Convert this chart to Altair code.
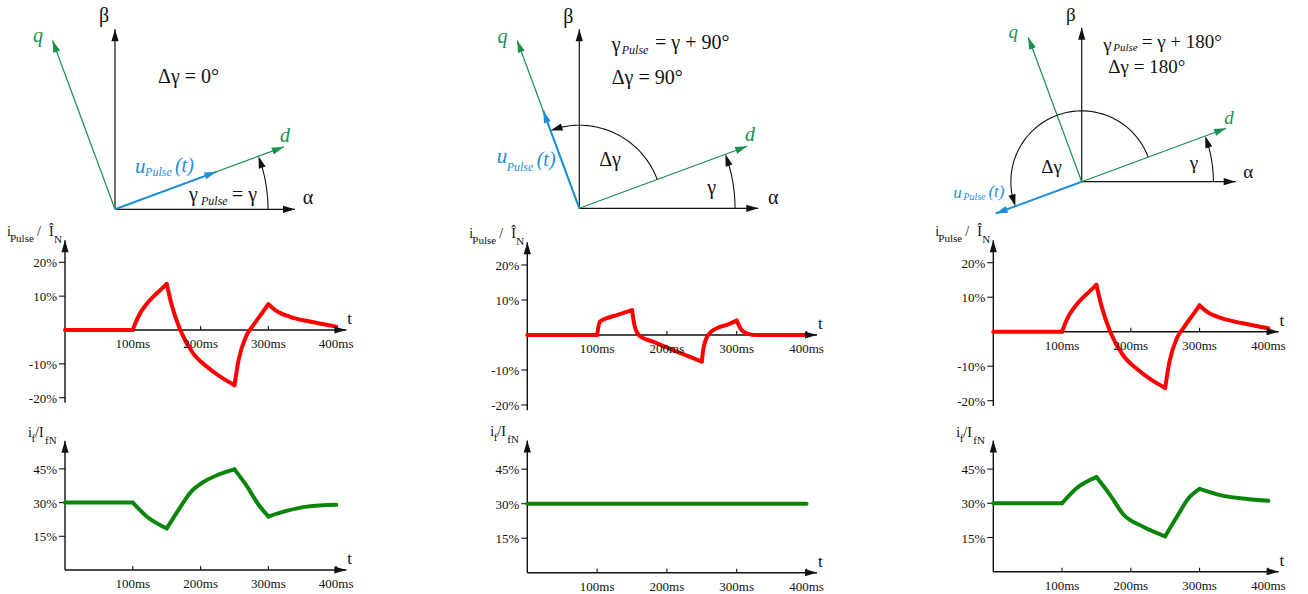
import altair as alt
import numpy as np
import pandas as pd

SERIF = "'Liberation Serif', 'Times New Roman', Times, 'DejaVu Serif', serif"
RED = "#ff0000"
FGREEN = "#0a850a"
PGREEN = "#17904c"
BLUE = "#1e8fd8"
BLACK = "#111111"

# ---------------- values ----------------
MS_TICKS = [100, 200, 300, 400]
MS_LABELS = ["100ms", "200ms", "300ms", "400ms"]
PULSE_TICKS = [20, 10, -10, -20]
PULSE_LABELS = ["20%", "10%", "-10%", "-20%"]
FIELD_TICKS = [45, 30, 15]
FIELD_LABELS = ["45%", "30%", "15%"]
SWITCH_MS = [100, 150, 250, 300]   # instants where the pulse changes

# column 1 : delta gamma = 0 deg
t_pulse_1 = [0, 100, 105, 110.6, 120, 130, 140, 150, 157, 170, 189, 209, 229, 250, 256, 268, 278, 292, 300, 310, 332, 361, 400]
i_pulse_1 = [0, 0, 2.6, 4.9, 7.6, 9.8, 11.7, 13.6, 7.7, 0.0, -6.9, -10.8, -13.8, -16.3, -8.9, -1.5, 1.5, 5.4, 7.6, 5.9, 3.9, 2.5, 1.0]
t_field_1 = [0, 100, 121, 150, 168, 185, 205, 225, 250, 269, 284, 300, 328, 357, 400]
i_field_1 = [30, 30, 23.7, 18.5, 27.0, 34.5, 39.3, 42.3, 44.8, 37.0, 29.7, 23.8, 26.4, 28.2, 29.0]

# column 2 : delta gamma = 90 deg
t_pulse_2 = [0, 100, 104, 114, 128, 150, 154, 161, 180, 209, 250, 252, 259, 271, 286, 300, 307, 314, 326, 400]
i_pulse_2 = [0, 0, 3.8, 4.8, 5.7, 7.1, 2.4, -0.3, -1.9, -4.3, -7.6, -4.3, 0.0, 1.9, 2.9, 4.1, 1.4, 0.5, 0.0, 0.0]
t_field_2 = [0, 400]
i_field_2 = [30, 30]

# column 3 : delta gamma = 180 deg
t_pulse_3 = [0, 100, 105, 110.6, 120, 130, 140, 150, 157, 170, 189, 209, 229, 250, 256, 268, 278, 292, 300, 310, 332, 361, 400]
i_pulse_3 = [0, 0, 2.6, 4.9, 7.6, 9.8, 11.7, 13.6, 7.7, 0.0, -6.9, -10.8, -13.8, -16.3, -8.9, -1.5, 1.5, 5.4, 7.6, 5.9, 3.9, 2.5, 1.0]
t_field_3 = [0, 100, 121, 150, 170, 189, 218, 250, 267, 284, 300, 330, 359, 400]
i_field_3 = [30, 30, 36.6, 41.5, 33.6, 25.2, 19.7, 15.5, 24.1, 32.2, 36.3, 33.6, 32.2, 31.1]

PULSE_T = [t_pulse_1, t_pulse_2, t_pulse_3]
PULSE_V = [i_pulse_1, i_pulse_2, i_pulse_3]
FIELD_T = [t_field_1, t_field_2, t_field_3]
FIELD_V = [i_field_1, i_field_2, i_field_3]

# phasor diagrams
GAMMA = 20.3                    # rotor angle (deg)
DELTA_GAMMA = [0, 90, 180]      # pulse offset (deg)
U_LEN = [0.60, 0.58, 0.595]     # pulse voltage vector length (rel.)
GAMMA_ARC_R = [0.85, 0.87, 0.855]
DGAMMA_ARC_R = [None, 0.464, 0.46]

# phasor texts: (text, x, y, size, italic, align, colour)
PH_TEXT = [
    [("β", -0.061, 1.074, 20, False, "center", BLACK),
     ("α", 1.072, 0.063, 20, False, "center", BLACK),
     ("q", -0.428, 0.963, 20, True, "center", PGREEN),
     ("d", 0.944, 0.407, 20, True, "center", PGREEN),
     ("Δγ = 0°", 0.239, 0.735, 20, False, "left", BLACK),
     ("γ", 0.411, 0.079, 20, False, "left", BLACK),
     ("Pulse", 0.478, 0.046, 12, True, "left", BLACK),
     ("= γ", 0.65, 0.079, 20, False, "left", BLACK),
     ("u", 0.111, 0.237, 21, True, "left", BLUE),
     ("Pulse", 0.167, 0.209, 12, True, "left", BLUE),
     ("(t)", 0.333, 0.242, 20, True, "left", BLUE)],
    [("β", -0.061, 1.07, 20, False, "center", BLACK),
     ("α", 1.084, 0.056, 20, False, "center", BLACK),
     ("q", -0.429, 0.959, 20, True, "center", PGREEN),
     ("d", 0.954, 0.41, 20, True, "center", PGREEN),
     ("γ", 0.181, 0.912, 20, False, "left", BLACK),
     ("Pulse", 0.237, 0.884, 12, True, "left", BLACK),
     ("= γ + 90°", 0.423, 0.922, 20, False, "left", BLACK),
     ("Δγ = 90°", 0.181, 0.726, 20, False, "left", BLACK),
     ("u", -0.461, 0.288, 21, True, "left", BLUE),
     ("Pulse", -0.406, 0.232, 12, True, "left", BLUE),
     ("(t)", -0.238, 0.268, 20, True, "left", BLUE),
     ("Δγ", 0.172, 0.27, 20, False, "center", BLACK),
     ("γ", 0.74, 0.112, 20, False, "center", BLACK)],
    [("β", -0.071, 1.082, 19, False, "center", BLACK),
     ("α", 1.082, 0.065, 19, False, "center", BLACK),
     ("q", -0.444, 0.974, 19, True, "center", PGREEN),
     ("d", 0.956, 0.412, 19, True, "center", PGREEN),
     ("γ", 0.14, 0.888, 19, False, "left", BLACK),
     ("Pulse", 0.205, 0.866, 11, True, "left", BLACK),
     ("= γ + 180°", 0.39, 0.909, 19, False, "left", BLACK),
     ("Δγ = 180°", 0.173, 0.747, 19, False, "left", BLACK),
     ("u", -0.834, -0.075, 17, True, "left", BLUE),
     ("Pulse", -0.769, -0.097, 10, True, "left", BLUE),
     ("(t)", -0.606, -0.065, 17, True, "left", BLUE),
     ("Δγ", -0.195, 0.097, 19, False, "center", BLACK),
     ("γ", 0.729, 0.119, 19, False, "center", BLACK)],
]

# ---------------- layout (pixels) ----------------
ROW_PIX = [(0, 235), (235, 435), (435, 594)]
COLS = [
    dict(left=0, width=462, x0=65.0, ppms=0.678, pulse_y0=330.0, pulse_ppp=3.385,
         field_y0=570.0, field_ppp=2.247, ox=115.0, oy=209.3, L=180.0),
    dict(left=462, width=466, x0=527.3, ppms=0.698, pulse_y0=335.0, pulse_ppp=3.5,
         field_y0=572.7, field_ppp=2.30, ox=579.3, oy=208.3, L=179.0),
    dict(left=928, width=380, x0=993.3, ppms=0.6875, pulse_y0=331.7, pulse_ppp=3.45,
         field_y0=571.7, field_ppp=2.28, ox=1081.7, oy=181.7, L=154.0),
]
X_AXIS_END = 415
PULSE_AXIS = (-21.5, 26.5)
FIELD_AXIS = (0, 57.5)
PULSE_TITLE = [("i", -58, -4, 14), ("Pulse", -55, 1.5, 11), ("/", -28, -4, 14),
               ("Î", -16, -4, 14), ("N", -11, 2.5, 11)]
FIELD_TITLE = [("i", -37, -4, 14), ("f", -33.5, 1, 11), ("/I", -30, -4, 14),
               ("fN", -20, 3, 11)]

ARROW_PATH = "M0,0L-0.6,2L0.6,2Z"
ARROW_SIZE = 144


def lin(lo, hi):
    return alt.Scale(domain=[lo, hi], nice=False, zero=False)


def arrows(df, xs, ys):
    return alt.Chart(df).mark_point(shape=ARROW_PATH, filled=True, size=ARROW_SIZE,
                                    opacity=1, strokeWidth=0).encode(
        x=alt.X("x:Q", scale=xs, axis=None),
        y=alt.Y("y:Q", scale=ys, axis=None),
        angle=alt.Angle("rot:Q", scale=None),
        color=alt.Color("color:N", scale=None),
    )


def segmented(t, v):
    """Split a curve at the switching instants present in it (boundary points go to both pieces)."""
    cuts = [s for s in SWITCH_MS if s in t]
    bounds = [min(t)] + cuts + [max(t)]
    rows = []
    for s in range(len(bounds) - 1):
        lo, hi = bounds[s], bounds[s + 1]
        pts = [(tt, vv) for tt, vv in zip(t, v) if lo <= tt <= hi]
        for i, (tt, vv) in enumerate(pts):
            rows.append({"seg": s, "k": i, "t": tt, "v": vv})
    return pd.DataFrame(rows)


def time_panel(k, kind):
    c = COLS[k]
    if kind == "pulse":
        top, bot = ROW_PIX[1]
        y0, ppp = c["pulse_y0"], c["pulse_ppp"]
        ticks, labels, (ylo, yhi), title = PULSE_TICKS, PULSE_LABELS, PULSE_AXIS, PULSE_TITLE
        t, v, colr = PULSE_T[k], PULSE_V[k], RED
    else:
        top, bot = ROW_PIX[2]
        y0, ppp = c["field_y0"], c["field_ppp"]
        ticks, labels, (ylo, yhi), title = FIELD_TICKS, FIELD_LABELS, FIELD_AXIS, FIELD_TITLE
        t, v, colr = FIELD_T[k], FIELD_V[k], FGREEN
    xs = lin((c["left"] - c["x0"]) / c["ppms"], (c["left"] + c["width"] - c["x0"]) / c["ppms"])
    ys = lin((y0 - bot) / ppp, (y0 - top) / ppp)

    def X(f):
        return alt.X(f, type="quantitative", scale=xs, axis=None)

    def Y(f):
        return alt.Y(f, type="quantitative", scale=ys, axis=None)

    layers = []
    ax = pd.DataFrame({"x": [0, 0], "y": [ylo, 0], "x2": [0, X_AXIS_END], "y2": [yhi, 0]})
    layers.append(alt.Chart(ax).mark_rule(color=BLACK, strokeWidth=1.4).encode(
        x=X("x"), y=Y("y"), x2="x2", y2="y2"))
    yt = pd.DataFrame({"x": [0] * len(ticks), "y": ticks, "lab": labels})
    layers.append(alt.Chart(yt).mark_rule(color=BLACK, strokeWidth=1.1, xOffset=-6).encode(
        x=X("x"), x2="x", y=Y("y")))
    xt = pd.DataFrame({"x": MS_TICKS, "y": [0] * len(MS_TICKS), "lab": MS_LABELS})
    layers.append(alt.Chart(xt).mark_rule(color=BLACK, strokeWidth=1.1, yOffset=-4).encode(
        x=X("x"), y=Y("y"), y2="y"))
    curve = segmented(t, v)
    layers.append(alt.Chart(curve).mark_line(color=colr, strokeWidth=4, strokeJoin="round",
                                             strokeCap="round", interpolate="monotone").encode(
        x=X("t"), y=Y("v"), detail="seg:N", order="k:Q"))
    ar = pd.DataFrame({"x": [0, X_AXIS_END], "y": [yhi, 0], "rot": [0, 90], "color": [BLACK, BLACK]})
    layers.append(arrows(ar, xs, ys))
    layers.append(alt.Chart(yt).mark_text(font=SERIF, fontSize=13, align="right", baseline="middle",
                                          dx=-8, dy=1, color=BLACK).encode(x=X("x"), y=Y("y"), text="lab:N"))
    layers.append(alt.Chart(xt).mark_text(font=SERIF, fontSize=13, align="center", baseline="middle",
                                          dy=14, color=BLACK).encode(x=X("x"), y=Y("y"), text="lab:N"))
    tl = pd.DataFrame({"x": [X_AXIS_END], "y": [0], "lab": ["t"]})
    layers.append(alt.Chart(tl).mark_text(font=SERIF, fontSize=17, align="left", baseline="middle",
                                          dx=1, dy=-11, color=BLACK).encode(x=X("x"), y=Y("y"), text="lab:N"))
    for txt, dx, dy, fs in title:
        d = pd.DataFrame({"x": [0], "y": [yhi], "lab": [txt]})
        layers.append(alt.Chart(d).mark_text(font=SERIF, fontSize=fs, align="left", baseline="alphabetic",
                                             dx=dx, dy=dy, color=BLACK).encode(x=X("x"), y=Y("y"), text="lab:N"))
    return alt.layer(*layers).properties(width=c["width"], height=bot - top)


def phasor_panel(k):
    c = COLS[k]
    top, bot = ROW_PIX[0]
    L = c["L"]
    xs = lin((c["left"] - c["ox"]) / L, (c["left"] + c["width"] - c["ox"]) / L)
    ys = lin((c["oy"] - bot) / L, (c["oy"] - top) / L)

    def X(f):
        return alt.X(f, type="quantitative", scale=xs, axis=None)

    def Y(f):
        return alt.Y(f, type="quantitative", scale=ys, axis=None)

    angles = [0, 90, GAMMA, GAMMA + 90, GAMMA + DELTA_GAMMA[k]]
    lens = [1.0, 1.0, 1.0, 1.0, U_LEN[k]]
    cols = [BLACK, BLACK, PGREEN, PGREEN, BLUE]
    widths = [1.2, 1.2, 1.2, 1.2, 2.0]
    rad = np.radians(angles)
    vdf = pd.DataFrame({"x0": 0.0, "y0": 0.0,
                        "x1": np.cos(rad) * lens, "y1": np.sin(rad) * lens,
                        "color": cols, "w": widths,
                        "rot": [(90 - a) % 360 for a in angles]})
    layers = [alt.Chart(vdf).mark_rule(strokeCap="butt").encode(
        x=X("x0"), y=Y("y0"), x2="x1", y2="y1",
        color=alt.Color("color:N", scale=None),
        strokeWidth=alt.StrokeWidth("w:Q", scale=None))]

    # angle arcs (geometry)
    arcs = [(GAMMA_ARC_R[k], 0.0, GAMMA)]
    if DGAMMA_ARC_R[k] is not None:
        arcs.append((DGAMMA_ARC_R[k], GAMMA, GAMMA + DELTA_GAMMA[k]))
    rows, heads = [], []
    for j, (r, a0, a1) in enumerate(arcs):
        back = np.degrees(8.0 / (r * L))
        aa = np.linspace(a0, a1 - back, 60)
        for i, a in enumerate(aa):
            rows.append({"arc": j, "k": i, "x": r * np.cos(np.radians(a)), "y": r * np.sin(np.radians(a))})
        direction = a1 + 90 - np.degrees(6.0 / (r * L))
        heads.append({"x": r * np.cos(np.radians(a1)), "y": r * np.sin(np.radians(a1)),
                      "rot": (90 - direction) % 360, "color": BLACK})
    adf = pd.DataFrame(rows)
    layers.append(alt.Chart(adf).mark_line(color=BLACK, strokeWidth=1.1).encode(
        x=X("x"), y=Y("y"), detail="arc:N", order="k:Q"))

    hdf = pd.DataFrame({"x": vdf["x1"], "y": vdf["y1"], "rot": vdf["rot"], "color": vdf["color"]})
    hdf = pd.concat([hdf, pd.DataFrame(heads)], ignore_index=True)
    layers.append(arrows(hdf, xs, ys))

    tdf = pd.DataFrame(PH_TEXT[k], columns=["text", "x", "y", "size", "italic", "align", "color"])
    for italic in (False, True):
        for align in ("left", "center"):
            sub = tdf[(tdf["italic"] == italic) & (tdf["align"] == align)]
            if len(sub) == 0:
                continue
            layers.append(alt.Chart(sub).mark_text(
                font=SERIF, fontStyle="italic" if italic else "normal",
                align=align, baseline="middle").encode(
                x=X("x"), y=Y("y"), text="text:N",
                size=alt.Size("size:Q", scale=None),
                color=alt.Color("color:N", scale=None)))
    return alt.layer(*layers).properties(width=c["width"], height=bot - top)


panels = []
for k in range(3):
    panels.append(phasor_panel(k))
for k in range(3):
    panels.append(time_panel(k, "pulse"))
for k in range(3):
    panels.append(time_panel(k, "field"))

chart = alt.concat(*panels, columns=3, spacing=0, bounds="flush", align="each").resolve_scale(
    x="independent", y="independent").properties(padding=0).configure(
    font=SERIF).configure_view(stroke=None, strokeWidth=0)

chart.save("out.html", embed_options={"renderer": "svg", "actions": False})
